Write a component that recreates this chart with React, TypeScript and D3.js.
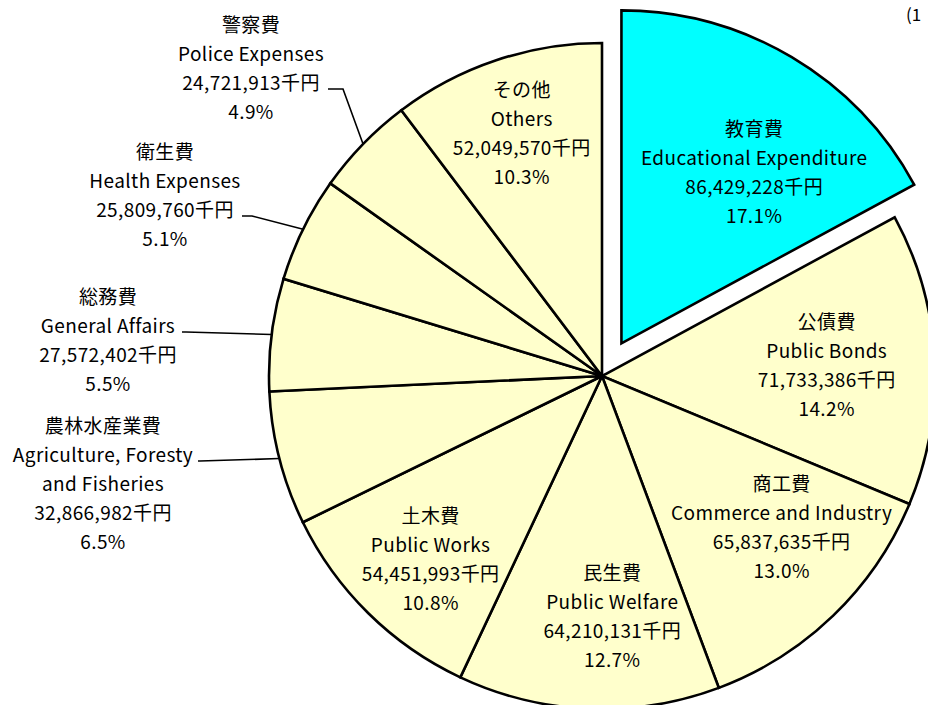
import React from 'react';
import * as d3 from 'd3';

// 歳出の内訳（千円）
const namesJa = ['教育費', '公債費', '商工費', '民生費', '土木費', '農林水産業費', '総務費', '衛生費', '警察費', 'その他'];
const namesEn = [
  'Educational Expenditure',
  'Public Bonds',
  'Commerce and Industry',
  'Public Welfare',
  'Public Works',
  'Agriculture, Foresty|and Fisheries',
  'General Affairs',
  'Health Expenses',
  'Police Expenses',
  'Others',
];
const values = [86429228, 71733386, 65837635, 64210131, 54451993, 32866982, 27572402, 25809760, 24721913, 52049570];
const highlighted = [true, false, false, false, false, false, false, false, false, false];

const W = 928;
const H = 705;
const cx = 602;
const cy = 376;
const R = 333;
const explode = 38;
const FONT = '"Noto Sans CJK JP", "Noto Sans", sans-serif';
const FS = 19;
const LS = 0.4;
const LINE = 29;

// inner label nudges (dx, dy) from centroid at r=240
const innerNudge: Record<number, [number, number]> = {
  0: [10, 34],
  1: [-15, 0],
  2: [13, -23],
  3: [20, -1],
  4: [-3, 11],
  9: [-4, -16],
};

// outer labels: text center x, first line y, leader line index, leader start x, knee x
const outer: Record<number, { x: number; y: number; line: number; sx: number; kx: number }> = {
  5: { x: 103, y: 424, line: 1, sx: 198, kx: 200 },
  6: { x: 108, y: 295, line: 1, sx: 182, kx: 186 },
  7: { x: 165, y: 150, line: 2, sx: 242, kx: 252 },
  8: { x: 251, y: 23, line: 2, sx: 328, kx: 343 },
};

const fmt = d3.format(',');

const Label = ({ x, y, text }: { x: number; y: number; text: string }) => (
  <text
    x={x}
    y={y}
    textAnchor="middle"
    dominantBaseline="central"
    fontFamily={FONT}
    fontSize={FS}
    letterSpacing={LS}
    fill="#000"
  >
    {text}
  </text>
);

export default function App() {
  const total = d3.sum(values);
  const pie = d3
    .pie<number>()
    .sort(null)
    .value((d) => d);
  const arcs = pie(values);
  const arc = d3.arc<d3.PieArcDatum<number>>().innerRadius(0).outerRadius(R);
  const labelArc = d3.arc<d3.PieArcDatum<number>>().innerRadius(240).outerRadius(240);
  const edgeArc = d3.arc<d3.PieArcDatum<number>>().innerRadius(R).outerRadius(R);

  const shift = (d: d3.PieArcDatum<number>, i: number) => {
    if (!highlighted[i]) return [0, 0];
    const mid = (d.startAngle + d.endAngle) / 2;
    return [explode * Math.sin(mid), -explode * Math.cos(mid)];
  };

  const lines = (i: number) => [
    namesJa[i],
    ...namesEn[i].split('|'),
    `${fmt(values[i])}千円`,
    `${((values[i] / total) * 100).toFixed(1)}%`,
  ];

  return (
    <svg width={W} height={H} style={{ position: 'absolute', left: 0, top: 0, background: '#fff' }}>
      <g transform={`translate(${cx},${cy})`}>
        {arcs.map((d, i) => {
          const [dx, dy] = shift(d, i);
          return (
            <path
              key={i}
              d={arc(d) || ''}
              transform={`translate(${dx},${dy})`}
              fill={highlighted[i] ? '#00ffff' : '#ffffcc'}
              stroke="#000"
              strokeWidth={2.6}
            />
          );
        })}
      </g>
      {arcs.map((d, i) => {
        const ls = lines(i);
        if (outer[i]) {
          const o = outer[i];
          const [ex, ey] = edgeArc.centroid(d);
          const ly = o.y + o.line * LINE + 8;
          return (
            <g key={i}>
              <polyline
                points={`${o.sx},${ly} ${o.kx},${ly} ${cx + ex},${cy + ey}`}
                fill="none"
                stroke="#000"
                strokeWidth={1.6}
              />
              {ls.map((t, j) => (
                <Label key={j} x={o.x} y={o.y + j * LINE} text={t} />
              ))}
            </g>
          );
        }
        const [dx, dy] = shift(d, i);
        const [lx, ly] = labelArc.centroid(d);
        const [nx, ny] = innerNudge[i] || [0, 0];
        const x = cx + lx + dx + nx;
        const y0 = cy + ly + dy + ny - ((ls.length - 1) * LINE) / 2;
        return (
          <g key={i}>
            {ls.map((t, j) => (
              <Label key={j} x={x} y={y0 + j * LINE} text={t} />
            ))}
          </g>
        );
      })}
      <text x={906} y={13} dominantBaseline="central" fontFamily={FONT} fontSize={17} fill="#000">
        (1
      </text>
    </svg>
  );
}
